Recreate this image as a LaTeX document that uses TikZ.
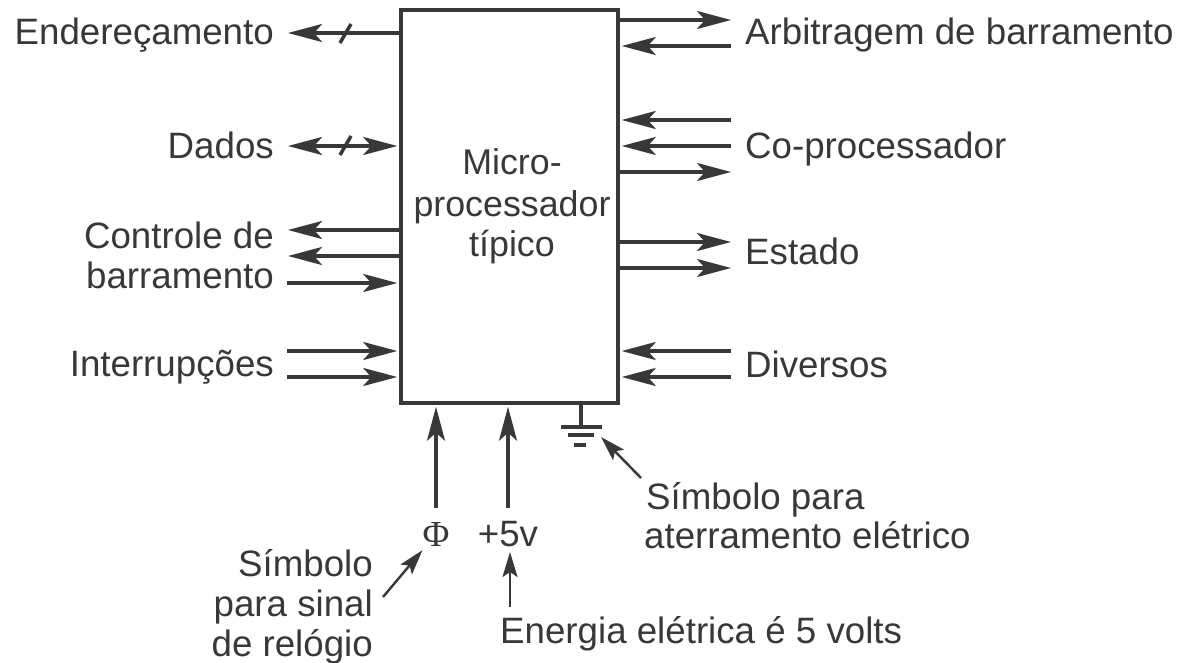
\documentclass[tikz,border=0pt]{standalone}
\usepackage{fontspec}
\setmainfont{Liberation Sans}
\newfontfamily\phifont{Liberation Serif}
\usetikzlibrary{arrows.meta}
\begin{document}
\begin{tikzpicture}[
  x=1pt,y=-1pt,
  font=\fontsize{36.7}{40}\selectfont,
  color=black!78,
  lab/.style={inner sep=0pt,anchor=base east},
  labr/.style={inner sep=0pt,anchor=base west},
  lab3/.style={inner sep=0pt,anchor=base,font=\fontsize{35.8}{40}\selectfont},
  cpubox/.style={draw,line width=3.5pt,minimum width=217pt,minimum height=393pt,inner sep=0pt},
  sig/.style={line width=3.3pt,-{Stealth[length=34pt,width=18pt,inset=8pt]}},
  sigboth/.style={line width=3.3pt,{Stealth[length=34pt,width=18pt,inset=8pt]}-{Stealth[length=34pt,width=18pt,inset=8pt]}},
  note/.style={line width=2.4pt,-{Stealth[length=25pt,width=15pt,inset=5pt]}},
  slash/.style={line width=3.5pt},
  gnd/.style={line width=4pt}
]
\useasboundingbox (0,0) rectangle (1180,663);
\node[cpubox] (cpu) at (509.5,206.5) {};
\node[lab3] (cpulab) at (512,175) {Micro-};
\node[lab3] (cpulabb) at (512,216) {processador};
\node[lab3] (cpulabc) at (512,256) {típico};
% left side
\coordinate (addr) at (288,33);
\coordinate (data) at (288,146);
\coordinate (ctrlA) at (288,230);
\coordinate (ctrlB) at (288,256);
\coordinate (ctrlC) at (287,283);
\coordinate (intA) at (287,351);
\coordinate (intB) at (287,377);
\draw[sig] (addr -| cpu.west) -- (addr);
\draw[sigboth] (data) -- ([xshift=-2pt]data -| cpu.west);
\draw[sig] (ctrlA -| cpu.west) -- (ctrlA);
\draw[sig] (ctrlB -| cpu.west) -- (ctrlB);
\draw[sig] (ctrlC) -- ([xshift=-2pt]ctrlC -| cpu.west);
\draw[sig] (intA) -- ([xshift=-2pt]intA -| cpu.west);
\draw[sig] (intB) -- ([xshift=-2pt]intB -| cpu.west);
\draw[slash] (340,43) -- (351,24);
\draw[slash] (340,155) -- (351,136);
\node[lab] (addrlab) at (274,45) {Endereçamento};
\node[lab] (datalab) at (274,159) {Dados};
\node[lab] (ctrllab) at (274,248) {Controle de};
\node[lab] (ctrllabb) at (274,288) {barramento};
\node[lab] (intlab) at (274,376) {Interrupções};
% right side
\coordinate (arbA) at (731,20);
\coordinate (arbB) at (731,46);
\coordinate (copA) at (731,120);
\coordinate (copB) at (731,146);
\coordinate (copC) at (731,172);
\coordinate (statA) at (731,242);
\coordinate (statB) at (731,268);
\coordinate (divA) at (731,351);
\coordinate (divB) at (731,377);
\draw[sig] (arbA -| cpu.east) -- (arbA);
\draw[sig] (arbB) -- ([xshift=2pt]arbB -| cpu.east);
\draw[sig] (copA) -- ([xshift=2pt]copA -| cpu.east);
\draw[sig] (copB) -- ([xshift=2pt]copB -| cpu.east);
\draw[sig] (copC -| cpu.east) -- (copC);
\draw[sig] (statA -| cpu.east) -- (statA);
\draw[sig] (statB -| cpu.east) -- (statB);
\draw[sig] (divA) -- ([xshift=2pt]divA -| cpu.east);
\draw[sig] (divB) -- ([xshift=2pt]divB -| cpu.east);
\node[labr] (arblab) at (745,45) {Arbitragem de barramento};
\node[labr] (coplab) at (745,159) {Co-processador};
\node[labr] (statlab) at (745,264) {Estado};
\node[labr] (divlab) at (745,377) {Diversos};
% bottom
\node[inner sep=0pt] (clk) at (436,534) {\phifont Φ};
\node[inner sep=0pt] (volt) at (508,534) {+5v};
\coordinate (clkend) at (436,508);
\coordinate (voltend) at (508,508);
\coordinate (gndtop) at (580.5,426);
\draw[sig] (clkend) -- ([yshift=-2pt]clkend |- cpu.south);
\draw[sig] (voltend) -- ([yshift=-2pt]voltend |- cpu.south);
\draw[gnd] (gndtop |- cpu.south) -- (gndtop);
\draw[gnd] (561,426.5) -- (602,426.5);
\draw[gnd] (568,434.5) -- (594,434.5);
\draw[gnd] (574,444.5) -- (586,444.5);
\node[labr] (gndlab) at (646,509) {Símbolo para};
\node[labr] (gndlabb) at (644,548) {aterramento elétrico};
\node[lab] (clklab) at (373,576) {Símbolo};
\node[lab] (clklabb) at (373,616) {para sinal};
\node[lab] (clklabc) at (373,656) {de relógio};
\node[labr] (voltlab) at (500,643) {Energia elétrica é 5 volts};
\coordinate (gndtip) at (601,437);
\coordinate (gndfrom) at (641,478);
\coordinate (clkfrom) at (383,597);
\coordinate (voltfrom) at (510,607);
\draw[note] (gndfrom) -- (gndtip);
\draw[note] (clkfrom) -- ([yshift=-4pt]clk.south west);
\draw[note] (voltfrom) -- ([yshift=-5pt]volt.south -| voltfrom);
\end{tikzpicture}
\end{document}
